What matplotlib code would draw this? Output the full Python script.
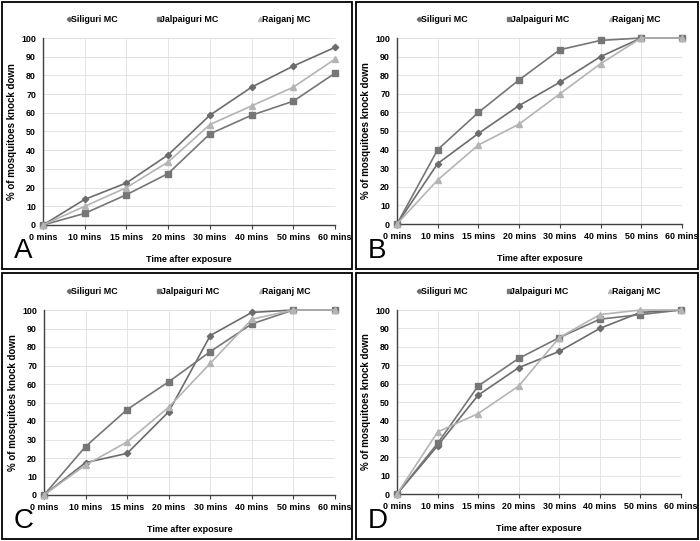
import numpy as np
import matplotlib.pyplot as plt
from matplotlib.patches import Rectangle
from matplotlib.lines import Line2D

plt.rcParams['font.family'] = ['Liberation Sans', 'DejaVu Sans']

times = ['0 mins', '10 mins', '15 mins', '20 mins', '30 mins', '40 mins', '50 mins', '60 mins']
series = ['Siliguri MC', 'Jalpaiguri MC', 'Raiganj MC']

# panel A
a_sil = [0, 13.7, 22.5, 37.5, 58.7, 73.7, 85, 95]
a_jal = [0, 6.2, 16.2, 27.5, 48.7, 58.7, 66.2, 81.2]
a_rai = [0, 10, 20, 33.7, 53.7, 63.7, 73.7, 88.7]
# panel B
b_sil = [0, 32.5, 48.7, 63.7, 76.2, 90, 100, 100]
b_jal = [0, 40, 60, 77.5, 93.7, 98.7, 100, 100]
b_rai = [0, 23.7, 42.5, 53.7, 70, 86.2, 100, 100]
# panel C
c_sil = [0, 17.5, 22.5, 45, 86.2, 98.7, 100, 100]
c_jal = [0, 26.2, 46.2, 61.2, 77.5, 92.5, 100, 100]
c_rai = [0, 16.2, 28.7, 47.5, 71.2, 95, 100, 100]
# panel D
d_sil = [0, 26.2, 53.7, 68.7, 77.5, 90, 98.7, 100]
d_jal = [0, 27.5, 58.7, 73.7, 85, 95, 97.5, 100]
d_rai = [0, 33.7, 43.7, 58.7, 85, 97.5, 100, 100]

panels = {
    'A': (a_sil, a_jal, a_rai),
    'B': (b_sil, b_jal, b_rai),
    'C': (c_sil, c_jal, c_rai),
    'D': (d_sil, d_jal, d_rai),
}

colors = ['#6c6c6c', '#767676', '#b4b4b4']
markers = ['D', 's', '^']
msizes = [3.2, 4.2, 4.2]

W, H = 700, 541
# axes boxes in pixels: left, right, top, bottom
boxes = {
    'A': (43, 335, 38, 225),
    'B': (397, 682, 38, 224),
    'C': (44, 335, 310, 495),
    'D': (397, 681, 310, 494),
}
# frames in pixels: x0, y0, x1, y1
frames = {
    'A': (2, 2, 352, 269),
    'B': (356, 2, 698, 269),
    'C': (2, 273, 352, 539),
    'D': (356, 273, 698, 539),
}

fig = plt.figure(figsize=(7, 5.41), dpi=100)

for key in ['A', 'B', 'C', 'D']:
    l, r, t, b = boxes[key]
    ax = fig.add_axes([l / W, 1 - b / H, (r - l) / W, (b - t) / H])
    x = np.arange(len(times))
    for vals, c, m, ms in zip(panels[key], colors, markers, msizes):
        ax.plot(x, vals, color=c, marker=m, markersize=ms, linewidth=1.2, clip_on=False, zorder=3)
    ax.set_xlim(0, len(times) - 1)
    ax.set_ylim(0, 100)
    ax.set_yticks(range(0, 101, 10))
    ax.set_xticks(x)
    ax.set_xticklabels(times)
    ax.grid(True, color='#e3e3e3', linewidth=0.7)
    ax.set_axisbelow(True)
    for s in ['top', 'right']:
        ax.spines[s].set_visible(False)
    for s in ['left', 'bottom']:
        ax.spines[s].set_color('#404040')
        ax.spines[s].set_linewidth(1.0)
    ax.tick_params(axis='both', labelsize=6.4, length=3, color='#404040', pad=3)
    ax.tick_params(axis='y', length=0, pad=5)
    for lab in ax.get_xticklabels() + ax.get_yticklabels():
        lab.set_fontweight('bold')
    ax.set_ylabel('% of mosquitoes knock down', fontsize=7, fontweight='bold', labelpad=3)
    ax.set_xlabel('Time after exposure', fontsize=6.5, fontweight='bold', labelpad=9)

    handles = [Line2D([], [], color=c, marker=m, markersize=ms * 0.7, linestyle='none')
               for c, m, ms in zip(colors, markers, msizes)]
    ax.legend(handles, series, ncol=3, loc='lower center', bbox_to_anchor=(0.5, 1.03),
              frameon=False, handlelength=0.3, handletextpad=0.05, columnspacing=4.5,
              prop={'size': 6.4, 'weight': 'bold'})

    x0, y0, x1, y1 = frames[key]
    fig.patches.append(Rectangle((x0 / W, 1 - y1 / H), (x1 - x0) / W, (y1 - y0) / H,
                                 transform=fig.transFigure, fill=False,
                                 edgecolor='black', linewidth=1.3))
    fig.text((x0 + 12) / W, 1 - (y1 - 5) / H, key, fontsize=20, ha='left', va='bottom')

fig.savefig('out.png', dpi=100)
